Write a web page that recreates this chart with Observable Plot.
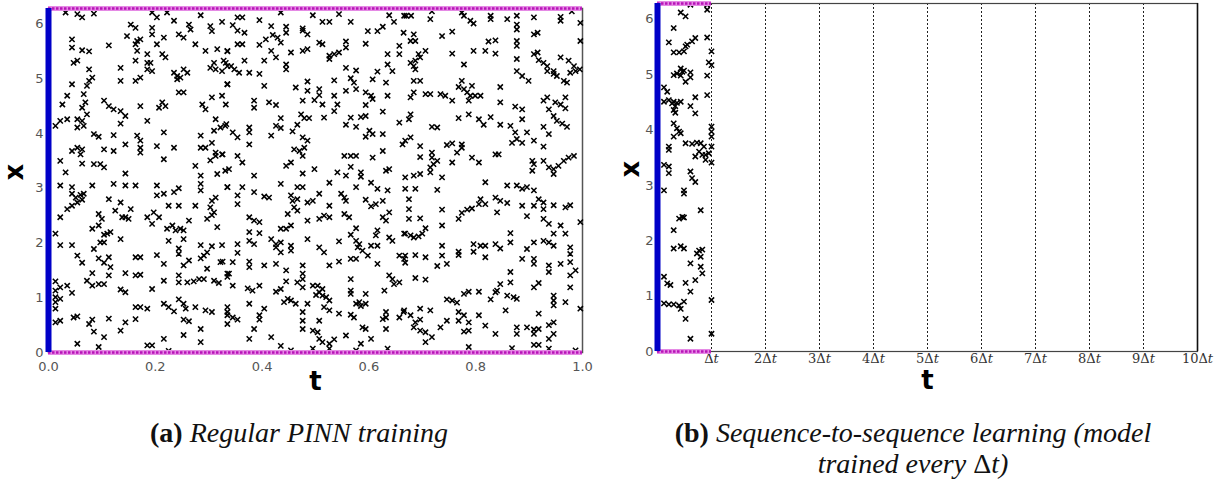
<!DOCTYPE html>
<html>
<head>
<meta charset="utf-8">
<script src="https://cdn.jsdelivr.net/npm/d3@7"></script>
<script src="https://cdn.jsdelivr.net/npm/@observablehq/plot@0.6"></script>
<style>
  html, body { margin: 0; padding: 0; background: #fff; }
  #fig { position: relative; width: 1225px; height: 480px; overflow: hidden; }
  #fig svg { position: absolute; top: 0; }
  .cap { position: absolute; font-family: "Liberation Serif", "Times New Roman", serif; font-size: 28px; color: #111; text-align: center; line-height: 31px; white-space: nowrap; }
  .cap b { font-style: normal; }
  .cap i { font-style: italic; }
  .cap .up { font-style: normal; }
</style>
</head>
<body>
<div id="fig">
  <div class="cap" style="left:0; width:598px; top:417px;"><b>(a)</b> <i>Regular PINN training</i></div>
  <div class="cap" style="left:600px; width:626px; top:417px;"><b>(b)</b> <i>Sequence-to-sequence learning (model<br>trained every <span class="up">Δ</span>t)</i></div>
</div>
<script>
// Residual collocation points (t, x) for the full-domain PINN run
const pinnPoints = [
  [0.032,6.21],[0.054,6.18],[0.063,6.12],[0.085,6.19],[0.194,6.21],[0.203,6.12],[0.222,6.21],[0.285,6.16],
  [0.154,5.99],[0.163,5.93],[0.194,5.93],[0.235,6.06],[0.263,5.99],[0.266,5.90],[0.303,5.96],[0.306,5.87],[0.325,6.04],
  [0.147,5.78],[0.194,5.81],[0.216,5.75],[0.244,5.81],[0.253,5.75],[0.166,5.69],[0.172,5.72],[0.044,5.72],[0.275,5.63],
  [0.044,5.57],[0.063,5.52],[0.076,5.50],[0.113,5.61],[0.163,5.63],[0.203,5.63],[0.166,5.51],[0.294,5.51],[0.316,5.54],[0.335,5.51],[0.185,5.45],[0.213,5.45],[0.219,5.39],
  [0.047,5.29],[0.054,5.33],[0.163,5.33],[0.185,5.29],[0.191,5.29],[0.310,5.29],[0.328,5.33],[0.335,5.23],[0.076,5.17],[0.135,5.20],[0.185,5.17],[0.194,5.14],[0.235,5.11],[0.253,5.17],[0.260,5.11],[0.303,5.20],[0.313,5.17],[0.325,5.14],
  [0.082,5.02],[0.076,4.96],[0.135,4.96],[0.163,4.96],[0.172,5.02],[0.241,5.05],[0.247,5.02],[0.241,4.99],[0.044,4.90],[0.072,4.87],[0.335,4.90],
  [0.066,4.72],[0.035,4.69],[0.244,4.75],[0.253,4.75],[0.325,4.69],[0.306,4.66],[0.104,4.60],[0.069,4.57],[0.113,4.50],[0.122,4.44],[0.135,4.41],[0.026,4.53],[0.063,4.47],[0.172,4.50],[0.207,4.47],[0.213,4.57],[0.219,4.50],[0.288,4.53],[0.294,4.44],
  [0.072,4.35],[0.144,4.32],[0.013,4.14],[0.022,4.23],[0.035,4.26],[0.054,4.26],[0.063,4.23],[0.054,4.11],[0.066,4.14],[0.135,4.18],[0.185,4.23],[0.313,4.26],[0.322,4.11],[0.331,4.14],[0.310,4.05],[0.216,4.02],[0.085,3.99],[0.094,3.94],
  [0.122,3.97],[0.166,3.96],[0.172,3.87],[0.285,3.96],[0.306,3.83],[0.044,3.68],[0.054,3.74],[0.063,3.71],[0.060,3.62],[0.104,3.71],[0.122,3.68],[0.144,3.80],[0.172,3.74],[0.203,3.77],[0.235,3.74],[0.285,3.74],[0.294,3.74],[0.313,3.65],[0.325,3.62],[0.172,3.65],
  [0.022,3.50],[0.063,3.45],[0.085,3.44],[0.097,3.44],[0.104,3.38],[0.216,3.53],[0.275,3.41],[0.303,3.51],[0.313,3.59],[0.032,3.29],[0.144,3.27],[0.285,3.23],[0.316,3.26],[0.331,3.32],

  [0.354,6.12],[0.363,6.12],[0.395,6.07],[0.417,5.96],[0.445,5.95],[0.476,5.92],[0.513,6.04],[0.526,6.04],[0.566,6.04],[0.598,5.87],[0.616,5.87],[0.626,5.95],[0.647,6.04],[0.666,6.15],[0.435,6.21],[0.495,6.16],[0.544,6.18],[0.638,6.16],
  [0.345,5.98],[0.354,5.88],[0.367,5.84],[0.407,5.72],[0.420,5.80],[0.429,5.75],[0.435,5.66],[0.395,5.62],[0.445,5.84],[0.476,5.88],[0.485,5.81],[0.354,5.63],[0.363,5.63],[0.507,5.66],[0.513,5.63],[0.557,5.68],[0.594,5.64],[0.657,5.60],
  [0.335,5.50],[0.417,5.51],[0.426,5.39],[0.404,5.33],[0.454,5.48],[0.476,5.51],[0.485,5.54],[0.526,5.42],[0.535,5.45],[0.544,5.48],[0.557,5.57],[0.526,5.36],[0.635,5.45],[0.657,5.45],
  [0.367,5.33],[0.332,5.29],[0.342,5.23],[0.348,5.17],[0.357,5.11],[0.376,5.11],[0.395,5.09],[0.445,5.26],[0.445,5.17],[0.557,5.20],[0.576,5.15],[0.616,5.13],[0.635,5.26],[0.644,5.14],
  [0.335,4.90],[0.404,4.87],[0.463,4.84],[0.485,4.95],[0.485,4.78],[0.507,4.81],[0.507,4.70],[0.535,4.97],[0.566,5.01],[0.572,4.93],[0.576,4.81],[0.607,4.99],[0.632,4.93],[0.557,4.78],[0.535,4.69],[0.594,4.75],[0.604,4.69],[0.607,4.63],[0.635,4.69],
  [0.385,4.60],[0.385,4.47],[0.413,4.57],[0.426,4.52],[0.476,4.60],[0.498,4.61],[0.513,4.53],[0.535,4.41],[0.541,4.53],[0.594,4.52],[0.626,4.40],[0.332,4.53],
  [0.435,4.28],[0.426,4.14],[0.435,4.10],[0.473,4.35],[0.479,4.28],[0.488,4.28],[0.466,4.16],[0.457,4.04],[0.516,4.29],[0.566,4.29],[0.585,4.30],[0.594,4.32],[0.557,4.16],[0.576,4.12],[0.657,4.20],[0.333,4.17],
  [0.345,4.02],[0.354,3.93],[0.376,4.11],[0.376,4.02],[0.376,3.80],[0.417,3.96],[0.476,3.93],[0.485,3.87],[0.601,4.05],[0.607,3.99],[0.594,3.94],[0.626,3.99],[0.663,3.80],
  [0.326,3.62],[0.354,3.59],[0.363,3.47],[0.460,3.71],[0.470,3.68],[0.476,3.59],[0.479,3.74],[0.554,3.59],[0.566,3.59],[0.576,3.59],[0.607,3.56],[0.626,3.68],
  [0.338,3.35],[0.385,3.23],[0.445,3.41],[0.454,3.47],[0.476,3.27],[0.498,3.35],[0.541,3.29],[0.566,3.39],[0.585,3.29],[0.585,3.21],[0.632,3.32],[0.638,3.35],[0.557,3.23],

  [0.670,6.15],[0.679,6.15],[0.715,6.09],[0.718,6.23],[0.774,6.21],[0.778,6.15],[0.790,6.06],[0.796,6.01],[0.828,6.15],[0.828,6.09],[0.859,6.09],[0.877,6.15],[0.877,5.99],[0.877,5.90],[0.909,6.12],[0.959,6.13],[0.959,6.06],[0.980,6.23],[0.996,6.02],[0.996,5.69],
  [0.665,5.84],[0.684,5.81],[0.678,5.69],[0.687,5.69],[0.737,5.78],[0.756,5.86],[0.824,5.68],[0.837,5.70],[0.877,5.69],[0.877,5.60],[0.909,5.81],[0.916,5.84],
  [0.706,5.51],[0.693,5.45],[0.696,5.39],[0.687,5.33],[0.678,5.29],[0.684,5.23],[0.687,5.17],[0.756,5.46],[0.796,5.51],[0.818,5.51],[0.837,5.46],[0.778,5.26],[0.877,5.36],[0.909,5.45],[0.916,5.48],[0.918,5.34],[0.927,5.29],[0.934,5.23],[0.946,5.14],[0.959,5.39],[0.974,5.33],[0.984,5.23],[0.987,5.14],[0.995,5.17],[0.977,5.11],[0.965,4.96],[0.971,4.93],[0.934,5.14],[0.952,5.05],[0.946,5.09],
  [0.877,5.14],[0.887,5.05],[0.899,4.96],[0.684,4.96],[0.696,4.96],[0.774,4.96],[0.793,4.87],[0.768,4.85],[0.846,4.85],
  [0.684,4.75],[0.678,4.66],[0.706,4.72],[0.715,4.72],[0.734,4.72],[0.743,4.69],[0.756,4.60],[0.778,4.81],[0.784,4.75],[0.790,4.69],[0.799,4.69],[0.809,4.69],[0.787,4.60],[0.846,4.57],[0.874,4.49],[0.887,4.44],[0.927,4.60],[0.934,4.66],[0.949,4.57],[0.968,4.66],[0.959,4.53],[0.968,4.46],
  [0.678,4.35],[0.675,4.26],[0.768,4.28],[0.787,4.35],[0.806,4.26],[0.815,4.16],[0.828,4.30],[0.846,4.16],[0.865,4.14],[0.887,4.26],[0.927,4.12],[0.937,4.44],[0.946,4.32],[0.952,4.23],[0.962,4.18],[0.971,4.12],
  [0.668,3.87],[0.678,3.93],[0.696,3.77],[0.718,4.12],[0.728,4.11],[0.746,3.79],[0.756,3.82],[0.774,3.80],[0.774,3.74],[0.765,3.65],[0.718,3.65],[0.874,4.02],[0.877,3.90],[0.868,3.83],[0.887,3.83],[0.896,4.02],[0.909,3.87],[0.927,3.76],[0.937,3.99],
  [0.696,3.57],[0.718,3.56],[0.728,3.50],[0.721,3.44],[0.715,3.38],[0.756,3.47],[0.793,3.56],[0.806,3.47],[0.837,3.62],[0.843,3.62],[0.906,3.50],[0.909,3.44],[0.927,3.50],[0.937,3.38],[0.946,3.35],[0.955,3.41],[0.965,3.50],[0.974,3.56],[0.984,3.59],[0.946,3.26],[0.906,3.32],
  [0.668,3.20],[0.684,3.23],[0.696,3.26],[0.715,3.29],[0.737,3.20],

  [0.022,3.05],[0.044,3.02],[0.044,2.90],[0.051,2.83],[0.060,2.88],[0.066,2.90],[0.082,3.05],[0.122,3.08],[0.144,3.05],[0.163,3.05],[0.203,3.05],[0.203,2.87],[0.216,2.90],[0.235,2.93],[0.244,3.00],[0.285,3.08],[0.285,2.96],[0.335,3.02],[0.306,2.77],[0.313,2.83],
  [0.035,2.62],[0.044,2.68],[0.054,2.74],[0.063,2.79],[0.113,2.80],[0.135,2.74],[0.125,2.59],[0.138,2.47],[0.144,2.47],[0.154,2.62],[0.150,2.44],[0.185,2.47],[0.197,2.56],[0.207,2.47],[0.194,2.35],[0.225,2.68],[0.244,2.68],[0.275,2.68],[0.303,2.65],[0.310,2.56],[0.297,2.44],[0.306,2.51],
  [0.022,2.47],[0.094,2.53],[0.100,2.44],[0.082,2.26],[0.094,2.32],[0.104,2.15],[0.110,2.17],[0.116,2.20],[0.135,2.07],[0.097,2.01],[0.104,2.01],[0.013,2.17],[0.085,1.89],[0.222,2.26],[0.225,2.04],[0.232,2.32],[0.238,2.23],[0.247,2.26],[0.253,2.23],[0.253,2.07],[0.263,2.41],[0.316,2.29],
  [0.022,1.96],[0.044,1.96],[0.244,1.90],[0.244,1.80],[0.285,1.96],[0.306,1.94],[0.325,1.96],[0.291,1.77],[0.285,1.72],[0.297,1.83],[0.322,1.65],[0.263,1.68],[0.253,1.59],[0.297,1.53],[0.338,1.44],
  [0.054,1.77],[0.063,1.64],[0.094,1.72],[0.104,1.64],[0.113,1.74],[0.116,1.56],[0.113,1.41],[0.163,1.74],[0.172,1.74],[0.203,1.78],[0.216,1.62],[0.144,1.45],[0.163,1.41],[0.172,1.42],[0.082,1.45],[0.072,1.31],[0.082,1.22],[0.094,1.25],[0.104,1.25],[0.135,1.15],[0.144,1.10],[0.216,1.31],[0.244,1.41],[0.244,1.28],[0.260,1.28],[0.272,1.30],[0.282,1.34],[0.291,1.34],[0.310,1.31],[0.319,1.27],
  [0.013,1.30],[0.022,1.19],[0.035,1.22],[0.044,1.09],[0.013,1.13],[0.013,1.01],[0.013,0.92],[0.013,0.80],[0.022,0.98],[0.194,1.16],
  [0.047,0.64],[0.054,0.66],[0.022,0.58],[0.013,0.55],[0.082,0.60],[0.076,0.52],[0.085,0.38],[0.113,0.62],[0.144,0.55],[0.135,0.40],[0.163,0.83],[0.172,0.83],[0.185,0.80],[0.163,0.61],[0.216,0.89],[0.225,0.83],[0.235,0.75],[0.244,0.97],[0.253,0.89],[0.257,0.80],[0.275,0.83],[0.294,0.77],[0.306,0.74],[0.253,0.60],[0.263,0.57],[0.285,0.43],[0.253,0.32],[0.216,0.25],[0.285,0.19],[0.104,0.28],[0.054,0.16],[0.094,0.10],[0.185,0.13],[0.194,0.13],[0.225,0.03],[0.335,0.74],[0.335,0.52],

  [0.335,3.02],[0.363,3.02],[0.385,2.93],[0.354,2.87],[0.354,2.71],[0.435,3.08],[0.466,3.02],[0.476,3.02],[0.526,3.10],[0.576,3.02],[0.604,3.10],[0.616,2.99],[0.635,2.96],
  [0.404,2.85],[0.413,2.83],[0.454,2.87],[0.457,2.77],[0.466,2.80],[0.460,2.65],[0.466,2.59],[0.485,2.74],[0.495,2.77],[0.507,2.90],[0.526,2.68],[0.548,2.90],[0.554,2.83],[0.557,2.77],[0.594,2.79],[0.604,2.67],[0.613,2.71],[0.626,2.77],
  [0.376,2.47],[0.385,2.41],[0.395,2.38],[0.448,2.53],[0.485,2.41],[0.507,2.44],[0.516,2.50],[0.526,2.47],[0.554,2.53],[0.563,2.47],[0.626,2.47],[0.632,2.41],[0.638,2.56],
  [0.435,2.26],[0.445,2.26],[0.454,2.32],[0.376,2.20],[0.395,2.18],[0.576,2.27],[0.566,2.15],[0.616,2.23],[0.613,2.14],[0.638,2.10],[0.644,2.04],[0.666,2.17],
  [0.354,1.98],[0.354,1.82],[0.376,2.04],[0.385,1.98],[0.417,2.07],[0.426,1.98],[0.435,2.01],[0.426,1.92],[0.435,1.83],[0.454,1.95],[0.454,1.86],[0.485,2.07],[0.507,1.92],[0.516,1.83],[0.544,2.03],[0.576,2.04],[0.582,1.98],[0.579,1.92],[0.588,1.86],[0.598,1.77],[0.604,1.95],[0.616,1.95],
  [0.566,1.71],[0.576,1.71],[0.544,1.66],[0.616,1.62],[0.657,1.77],[0.666,1.71],[0.326,1.66],[0.345,1.65],[0.376,1.66],[0.376,1.56],[0.404,1.59],[0.426,1.62],[0.476,1.59],[0.526,1.59],
  [0.335,1.44],[0.335,1.38],[0.345,1.22],[0.476,1.44],[0.476,1.34],[0.445,1.50],[0.445,1.30],[0.466,1.28],[0.476,1.19],[0.495,1.22],[0.504,1.22],[0.513,1.16],[0.507,1.10],[0.501,1.05],[0.513,1.04],[0.520,1.01],[0.526,0.95],[0.516,0.83],[0.526,0.77],
  [0.638,1.41],[0.644,1.34],[0.647,1.25],[0.657,1.28],[0.629,1.13],[0.566,1.34],[0.566,1.13],[0.566,1.07],[0.594,1.07],[0.582,0.92],[0.576,0.89],[0.585,0.85],[0.594,0.89],
  [0.373,1.17],[0.382,1.13],[0.395,1.22],[0.426,1.11],[0.435,1.16],[0.441,0.92],[0.448,0.98],[0.454,0.95],[0.463,0.89],[0.485,0.89],[0.376,0.89],
  [0.335,0.83],[0.335,0.68],[0.345,0.64],[0.354,0.60],[0.395,0.68],[0.404,0.80],[0.395,0.60],[0.476,0.74],[0.476,0.58],[0.476,0.43],[0.507,0.58],[0.544,0.71],[0.566,0.69],[0.572,0.64],[0.632,0.74],[0.632,0.64],[0.626,0.61],[0.632,0.43],[0.657,0.64],[0.666,0.77],
  [0.385,0.43],[0.376,0.25],[0.417,0.28],[0.495,0.40],[0.504,0.37],[0.507,0.25],[0.513,0.19],[0.526,0.16],[0.535,0.24],[0.557,0.31],[0.588,0.46],[0.594,0.43],[0.604,0.25],[0.585,0.16],[0.435,0.12],[0.454,0.04],[0.495,0.07],[0.526,0.07],[0.576,0.04],[0.635,0.07],

  [0.668,2.99],[0.687,2.99],[0.728,2.97],[0.818,3.11],[0.859,3.05],[0.877,3.05],[0.887,2.99],[0.896,3.02],[0.909,2.96],[0.918,2.80],[0.927,2.74],[0.946,2.69],[0.968,2.65],[0.977,2.69],
  [0.809,2.80],[0.818,2.71],[0.837,2.83],[0.846,2.77],[0.859,2.73],[0.840,2.56],[0.887,2.68],[0.909,2.68],[0.927,2.62],[0.896,2.49],[0.927,2.44],[0.937,2.35],[0.959,2.32],[0.946,2.17],[0.968,2.17],
  [0.927,2.04],[0.937,2.01],[0.946,1.95],[0.977,1.92],[0.977,1.80],[0.977,1.65],[0.987,1.50],[0.977,1.41],[0.977,1.19],[0.996,2.38],[0.996,0.80],
  [0.675,2.80],[0.675,2.62],[0.675,2.44],[0.696,2.45],[0.737,2.61],[0.737,2.32],[0.706,2.27],[0.700,2.17],[0.693,2.12],[0.684,2.10],[0.678,2.14],[0.668,2.17],[0.768,2.44],[0.774,2.55],[0.784,2.61],[0.793,2.63],[0.806,2.71],
  [0.737,1.95],[0.737,1.77],[0.687,1.78],[0.706,1.74],[0.668,1.77],[0.668,1.64],[0.728,1.58],[0.746,1.62],[0.768,1.84],[0.768,1.78],[0.796,1.98],[0.796,1.84],[0.809,1.95],[0.818,1.95],[0.818,1.74],[0.837,1.98],[0.846,1.90],[0.865,2.18],[0.865,2.01],[0.887,1.71],[0.896,1.89],[0.909,2.01],[0.909,1.71],[0.909,1.62],[0.937,1.59],[0.937,1.47],[0.959,1.62],
  [0.687,1.36],[0.706,1.33],[0.865,1.47],[0.865,1.28],[0.846,1.25],[0.840,1.13],[0.837,1.10],[0.828,0.97],[0.778,1.07],[0.787,1.11],[0.806,1.11],[0.746,0.97],[0.756,0.95],[0.765,0.91],[0.859,1.04],[0.871,1.01],[0.877,0.98],[0.909,1.19],[0.918,1.27],[0.946,1.04],[0.946,0.95],[0.946,0.86],[0.968,0.92],[0.856,0.77],[0.918,0.71],
  [0.665,0.74],[0.678,0.68],[0.696,0.80],[0.715,0.77],[0.696,0.60],[0.687,0.55],[0.684,0.46],[0.696,0.40],[0.706,0.37],[0.706,0.19],[0.718,0.28],[0.734,0.46],[0.746,0.58],[0.768,0.74],[0.778,0.68],[0.768,0.58],[0.787,0.55],[0.778,0.38],[0.787,0.40],[0.806,0.68],[0.818,0.49],[0.837,0.34],
  [0.877,0.46],[0.877,0.34],[0.896,0.46],[0.909,0.42],[0.918,0.43],[0.909,0.34],[0.937,0.50],[0.946,0.55],[0.946,0.34],[0.937,0.25],[0.787,0.10],[0.868,0.08],[0.909,0.14],[0.918,0.14],[0.937,0.07],[0.987,0.04]
];

// Collocation points (t in units of Δt, x) for the first sequence window
const seqPoints = [
  [0.61,6.26],[0.92,6.26],[0.92,6.17],[0.43,6.12],[0.52,6.05],[0.30,5.84],[0.92,5.67],[0.21,5.58],[0.55,5.54],[0.64,5.60],[0.70,5.66],[0.52,5.51],[0.30,5.40],[0.40,5.40],[0.49,5.42],[1.0,5.42],
  [0.95,5.22],[1.0,5.17],[0.43,5.11],[0.49,5.07],[0.30,4.99],[0.36,5.02],[0.43,4.98],[0.46,5.05],[0.61,5.04],[0.61,4.95],[0.92,4.98],[0.52,4.87],[0.12,4.77],[0.18,4.69],[0.92,4.63],[0.70,4.59],
  [0.12,4.51],[0.21,4.54],[0.27,4.48],[0.30,4.51],[0.36,4.49],[0.43,4.51],[0.33,4.43],[0.61,4.43],[0.30,4.36],[0.33,4.31],[0.70,4.30],[0.30,4.12],[0.36,4.03],[0.40,3.97],[0.43,3.94],[0.30,3.88],
  [1.0,4.06],[1.0,3.97],[1.0,3.88],[0.52,3.76],[0.64,3.75],[0.73,3.77],[0.80,3.76],[0.86,3.70],[1.0,3.70],[0.21,3.70],[0.21,3.64],[0.77,3.61],[0.83,3.55],[0.89,3.55],[0.70,3.52],[0.95,3.58],
  [1.0,3.41],[0.89,3.46],[0.12,3.37],[0.21,3.34],[0.21,3.22],[0.61,3.25],[0.64,3.13],[0.70,3.06],[0.12,2.91],[0.49,2.91],[0.49,2.85],[0.80,2.55],[0.40,2.40],[0.46,2.43],[0.49,2.42],[0.30,2.19],
  [0.43,1.90],[0.30,1.86],[0.49,1.86],[0.77,1.82],[0.83,1.84],[0.73,1.77],[0.80,1.71],[0.61,1.59],[0.80,1.53],[0.83,1.41],[0.12,1.35],[0.70,1.29],[0.18,1.23],[0.24,1.20],[0.52,1.24],[0.61,1.08],
  [0.12,0.87],[0.21,0.85],[0.30,0.85],[0.40,0.83],[0.49,0.90],[0.43,0.77],[0.52,0.59],[1.0,0.93],[1.0,0.32],[0.61,0.23]
];

// Axis ticks
const xTicks = [0, 1, 2, 3, 4, 5, 6];
const tTicksA = [0, 0.2, 0.4, 0.6, 0.8, 1.0];
const stepTicks = [1, 2, 3, 4, 5, 6, 7, 8, 9, 10];

// Domain boundaries: x ∈ [0, 2π], t starts at 0; one window is Δt wide
const xBoundaries = [0, 2 * Math.PI];
const tStart = [0];
const windowEnd = 1;

const cross = {symbol: "times", r: 2.5, stroke: "#000", strokeWidth: 1.55};
const axisLabel = {fontSize: 26, fontWeight: "bold", fontFamily: "DejaVu Sans", fill: "#000"};
const magentaWide = {stroke: "#e58ae5", strokeWidth: 5};
const magentaCore = {stroke: "#b814b8", strokeWidth: 2.5, strokeDasharray: "2.5 1.5"};
const blueEdge = {stroke: "#0000c8", strokeWidth: 6};

const fig = document.getElementById("fig");

// (a) regular PINN training over the full time domain
const left = Plot.plot({
  width: 600, height: 400,
  marginLeft: 48, marginRight: 18, marginTop: 8, marginBottom: 48,
  style: {fontFamily: "DejaVu Sans", fontSize: "13px", color: "#555", background: "transparent"},
  x: {domain: [0, 1], ticks: tTicksA, tickFormat: d => d.toFixed(1), tickSize: 0, tickPadding: 9, label: null},
  y: {domain: xBoundaries, ticks: xTicks, tickFormat: d => String(d), tickSize: 0, tickPadding: 5, label: null},
  marks: [
    Plot.frame({stroke: "#555", strokeWidth: 1.5}),
    Plot.dot(pinnPoints, {x: d => d[0], y: d => d[1], ...cross}),
    Plot.ruleY(xBoundaries, {x1: 0, x2: 1, ...magentaWide}),
    Plot.ruleY(xBoundaries, {x1: 0, x2: 1, ...magentaCore}),
    Plot.ruleX(tStart, {y1: xBoundaries[0], y2: xBoundaries[1], ...blueEdge}),
    Plot.text(["t"], {text: d => d, frameAnchor: "bottom", dy: 37, ...axisLabel}),
    Plot.text(["x"], {text: d => d, frameAnchor: "left", dx: -34, rotate: -90, ...axisLabel})
  ]
});
left.style.left = "0px";
fig.appendChild(left);

// (b) sequence-to-sequence learning, one model per Δt window
const right = Plot.plot({
  width: 625, height: 400,
  marginLeft: 57, marginRight: 28, marginTop: 3, marginBottom: 49,
  style: {fontFamily: "DejaVu Sans", fontSize: "13px", color: "#555", background: "transparent"},
  x: {domain: [0, 10], ticks: stepTicks, tickFormat: d => (d === 1 ? "" : d) + "Δt", tickSize: 0, tickPadding: 2, label: null},
  y: {domain: xBoundaries, ticks: xTicks, tickFormat: d => String(d), tickSize: 0, tickPadding: 4, label: null},
  marks: [
    Plot.ruleX(stepTicks.slice(0, -1), {stroke: "#222", strokeWidth: 1, strokeDasharray: "2 2"}),
    Plot.frame({stroke: "#444", strokeWidth: 1.2}),
    Plot.ruleX([10], {stroke: "#111", strokeWidth: 1.5}),
    Plot.dot(seqPoints, {x: d => d[0], y: d => d[1], ...cross}),
    Plot.ruleY(xBoundaries, {x1: 0, x2: windowEnd, ...magentaWide}),
    Plot.ruleY(xBoundaries, {x1: 0, x2: windowEnd, ...magentaCore}),
    Plot.ruleX(tStart, {y1: xBoundaries[0], y2: xBoundaries[1], ...blueEdge}),
    Plot.text(["t"], {text: d => d, frameAnchor: "bottom", dy: 37, ...axisLabel}),
    Plot.text(["x"], {text: d => d, frameAnchor: "left", dx: -27, rotate: -90, ...axisLabel})
  ]
});
right.style.left = "600px";
fig.appendChild(right);

// Typeset the Δt tick labels: upright multiplier and Δ, italic t
d3.select(right).selectAll('[aria-label="x-axis tick label"] text').each(function () {
  const s = this.textContent;
  const sel = d3.select(this)
    .attr("font-family", "DejaVu Serif")
    .attr("font-size", 13)
    .attr("fill", "#333");
  sel.text(null);
  sel.append("tspan").text(s.slice(0, -1));
  sel.append("tspan").attr("font-style", "italic").text("t");
});
</script>
</body>
</html>
